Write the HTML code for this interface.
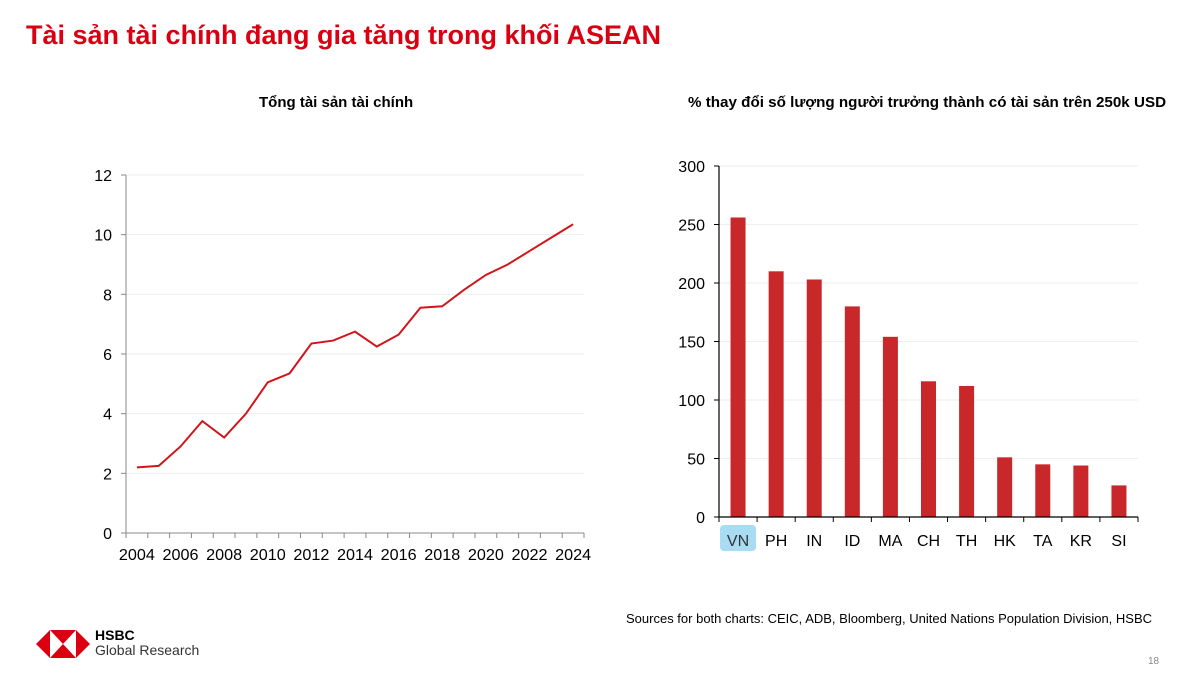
<!DOCTYPE html>
<html><head><meta charset="utf-8"><style>
body{margin:0;width:1200px;height:677px;background:#fff;font-family:"Liberation Sans",sans-serif;position:relative;overflow:hidden}
.t{position:absolute;white-space:nowrap}
</style></head><body>
<div class="t" style="left:26px;top:20px;font-size:27px;font-weight:bold;color:#db0011">Tài sản tài chính đang gia tăng trong khối ASEAN</div>
<div class="t" style="left:259px;top:94px;font-size:15px;font-weight:bold;color:#000">Tổng tài sản tài chính</div>
<div class="t" style="left:688px;top:94px;font-size:15.2px;font-weight:bold;color:#000">% thay đổi số lượng người trưởng thành có tài sản trên 250k USD</div>
<svg width="1200" height="677" style="position:absolute;left:0;top:0">
<g id="lc"></g>
<g id="bc"></g>
</svg>
<div class="t" style="left:626px;top:611px;font-size:13px;color:#000">Sources for both charts: CEIC, ADB, Bloomberg, United Nations Population Division, HSBC</div>
<svg style="position:absolute;left:36px;top:628px" width="54" height="32">
<polygon points="0,16 14,2 14,30" fill="#db0011"/><polygon points="54,16 40,2 40,30" fill="#db0011"/>
<polygon points="14,2 40,2 27,16" fill="#db0011"/><polygon points="14,30 40,30 27,16" fill="#db0011"/>
</svg>
<div class="t" style="left:95px;top:627px;font-size:14px;font-weight:bold">HSBC</div>
<div class="t" style="left:95px;top:642px;font-size:14px;color:#333">Global Research</div>
<div class="t" style="left:1148px;top:656px;font-size:10px;color:#888">18</div>
<script>
const years=[2004,2005,2006,2007,2008,2009,2010,2011,2012,2013,2014,2015,2016,2017,2018,2019,2020,2021,2022,2023,2024];
const assets=[2.2,2.25,2.9,3.75,3.2,4.0,5.05,5.35,6.35,6.45,6.75,6.25,6.65,7.55,7.6,8.15,8.65,9.0,9.45,9.9,10.35];
const lineTicks=[0,2,4,6,8,10,12];
const countries=["VN","PH","IN","ID","MA","CH","TH","HK","TA","KR","SI"];
const pctChange=[256,210,203,180,154,116,112,51,45,44,27];
const barTicks=[0,50,100,150,200,250,300];
const NS="http://www.w3.org/2000/svg";
function mk(p,tag,a,txt){const e=document.createElementNS(NS,tag);for(const k in a)e.setAttribute(k,a[k]);if(txt!==undefined)e.textContent=txt;p.appendChild(e);return e;}
// line chart
const lc=document.getElementById('lc');
const L={x0:126,x1:584,y0:533,y1:175};
const step=(L.x1-L.x0)/years.length;
const lx=i=>L.x0+step*(i+0.5);
const ly=v=>L.y0-(v-0)/12*(L.y0-L.y1);
lineTicks.forEach(t=>{
 if(t>0){const g=mk(lc,'line',{x1:L.x0,x2:L.x1,y1:ly(t),y2:ly(t),stroke:'#eee'});}
 mk(lc,'line',{x1:L.x0-5,x2:L.x0,y1:ly(t),y2:ly(t),stroke:'#888'});
 const tx=mk(lc,'text',{x:L.x0-14,y:ly(t)+6,'text-anchor':'end','font-size':16,fill:'#000'},t);
 
});
mk(lc,'line',{x1:L.x0,x2:L.x0,y1:L.y1,y2:L.y0,stroke:'#888'});
mk(lc,'line',{x1:L.x0,x2:L.x1,y1:L.y0,y2:L.y0,stroke:'#888'});
for(let i=0;i<=years.length;i++)mk(lc,'line',{x1:L.x0+step*i,x2:L.x0+step*i,y1:L.y0,y2:L.y0+5,stroke:'#888'});
years.forEach((y,i)=>{if(i%2==0){const tx=mk(lc,'text',{x:lx(i),y:L.y0+27,'text-anchor':'middle','font-size':16,fill:'#000',textLength:36,lengthAdjust:'spacingAndGlyphs'},y);
 }});
const pl=mk(lc,'polyline',{points:assets.map((v,i)=>lx(i)+','+ly(v)).join(' '),fill:'none',stroke:'#d0161b','stroke-width':2});

// bar chart
const bc=document.getElementById('bc');
const B={x0:719,x1:1138,y0:517,y1:166};
const bw=(B.x1-B.x0)/countries.length;
const bx=i=>B.x0+bw*(i+0.5);
const by=v=>B.y0-v/300*(B.y0-B.y1);
const hl=mk(bc,'rect',{x:B.x0+1,y:B.y0+8,width:bw-2,height:26,rx:4,fill:'#a8dcf2'});

barTicks.forEach(t=>{
 if(t>0){const g=mk(bc,'line',{x1:B.x0,x2:B.x1,y1:by(t),y2:by(t),stroke:'#eee'});}
 mk(bc,'line',{x1:B.x0-5,x2:B.x0,y1:by(t),y2:by(t),stroke:'#000'});
 const tx=mk(bc,'text',{x:B.x0-14,y:by(t)+6,'text-anchor':'end','font-size':16,fill:'#000'},t);
 
});
pctChange.forEach((v,i)=>{const r=mk(bc,'rect',{x:bx(i)-7.5,y:by(v),width:15,height:B.y0-by(v),fill:'#c8282a'});
 });
mk(bc,'line',{x1:B.x0,x2:B.x0,y1:B.y1,y2:B.y0,stroke:'#000','stroke-width':1.2});
mk(bc,'line',{x1:B.x0,x2:B.x1,y1:B.y0,y2:B.y0,stroke:'#000','stroke-width':1.2});
for(let i=0;i<=countries.length;i++)mk(bc,'line',{x1:B.x0+bw*i,x2:B.x0+bw*i,y1:B.y0,y2:B.y0+5,stroke:'#000'});
countries.forEach((c,i)=>{const tx=mk(bc,'text',{x:bx(i),y:B.y0+29,'text-anchor':'middle','font-size':16,fill:i==0?'#333':'#000'},c);
 });
</script>
</body></html>
